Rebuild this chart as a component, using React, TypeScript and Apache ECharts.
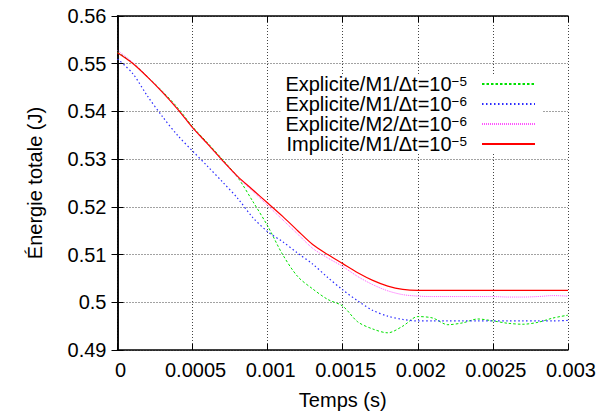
import React, { useEffect, useRef } from "react";
import * as echarts from "echarts";

const time = [
  0, 0.0001, 0.0002, 0.0003, 0.0004, 0.0005, 0.0006, 0.0007, 0.0008, 0.0009,
  0.001, 0.0011, 0.0012, 0.0013, 0.0014, 0.0015, 0.0016, 0.0017, 0.0018, 0.0019,
  0.002, 0.0021, 0.0022, 0.0023, 0.0024, 0.0025, 0.0026, 0.0027, 0.0028, 0.0029, 0.003,
];

const explM1e5 = [
  0.5524, 0.5502, 0.5473, 0.5442, 0.5408, 0.5368, 0.5334, 0.5299, 0.5262, 0.5212,
  0.516, 0.51, 0.5054, 0.5028, 0.5006, 0.4992, 0.4959, 0.4944, 0.4936, 0.495,
  0.497, 0.4967, 0.4953, 0.4957, 0.4965, 0.4961, 0.4956, 0.4954, 0.4958, 0.4967, 0.4973,
];

const explM1e6 = [
  0.551, 0.548, 0.5432, 0.5389, 0.535, 0.5317, 0.5285, 0.5252, 0.5218, 0.5178,
  0.5148, 0.5127, 0.5103, 0.508, 0.5052, 0.5026, 0.5003, 0.4983, 0.4971, 0.4964,
  0.4961, 0.4961, 0.4961, 0.4961, 0.4961, 0.4961, 0.4961, 0.4961, 0.4961, 0.4961, 0.4962,
];

const explM2e6 = [
  0.5528, 0.5503, 0.5473, 0.5441, 0.5405, 0.5365, 0.5331, 0.5296, 0.5262, 0.5233,
  0.5203, 0.5173, 0.5143, 0.5113, 0.5093, 0.5075, 0.5054, 0.5037, 0.5024, 0.5016,
  0.5013, 0.5012, 0.5012, 0.5012, 0.5012, 0.5012, 0.5011, 0.5011, 0.5012, 0.5014, 0.5013,
];

const implM1e5 = [
  0.5523, 0.5501, 0.5472, 0.544, 0.5405, 0.5366, 0.5332, 0.5297, 0.5264, 0.5236,
  0.5208, 0.518, 0.515, 0.5121, 0.51, 0.5081, 0.5062, 0.5046, 0.5034, 0.5027,
  0.5025, 0.5025, 0.5025, 0.5025, 0.5025, 0.5025, 0.5025, 0.5025, 0.5025, 0.5025, 0.5025,
];

const seriesNames = [
  "Explicite/M1/Δt=10{sup|−5}",
  "Explicite/M1/Δt=10{sup|−6}",
  "Explicite/M2/Δt=10{sup|−6}",
  "Implicite/M1/Δt=10{sup|−5}",
];
const seriesValues = [explM1e5, explM1e6, explM2e6, implM1e5];
const seriesColors = ["#00e000", "#2a2aff", "#ff55ff", "#ff0000"];
const seriesDash: (number[] | "solid")[] = [[2.5, 2], [1.5, 2.5], [1, 1], "solid"];
const seriesWidth = [1, 1.2, 1, 1.2];

const FONT = "'Liberation Sans', Arial, Helvetica, sans-serif";
const FS = 20;

const fmt = (v: number) => String(+Number(v).toFixed(6));

export default function App() {
  const ref = useRef<HTMLDivElement>(null);
  useEffect(() => {
    if (!ref.current) return;
    const chart = echarts.init(ref.current, undefined, { renderer: "svg" });
    const series = seriesNames.map((name, i) => ({
      name,
      type: "line" as const,
      xAxisIndex: 0,
      yAxisIndex: 0,
      data: time.map((t, j) => [t, seriesValues[i][j]]),
      showSymbol: false,
      symbol: "none",
      smooth: 0.3,
      color: seriesColors[i],
      lineStyle: { color: seriesColors[i], width: seriesWidth[i], type: seriesDash[i] as any },
    }));
    const axisLine = { show: true, lineStyle: { color: "#000", width: 1.5 } };
    const axisTick = { show: true, inside: true, length: 6, lineStyle: { color: "#000", width: 1 } };
    chart.setOption({
      animation: false,
      textStyle: { fontFamily: FONT },
      grid: { left: 117.5, right: 29, top: 16, bottom: 63, containLabel: false },
      legend: {
        orient: "vertical",
        align: "right",
        right: 56,
        top: 74,
        padding: [0, 7, 0, 5],
        itemGap: 0,
        itemWidth: 53,
        itemHeight: 14,
        backgroundColor: "#fff",
        itemStyle: { opacity: 0 },
        data: seriesNames,
        formatter: (n: string) => "{b|" + n.replace("{sup|", "}{sup|"),
        textStyle: {
          color: "#000",
          fontFamily: FONT,
          fontSize: FS,
          rich: {
            b: { fontSize: FS, lineHeight: 20, fontFamily: FONT, color: "#000", verticalAlign: "bottom" },
            sup: { fontSize: 13.5, lineHeight: 13, fontFamily: FONT, color: "#000", verticalAlign: "top", padding: [0, 10, 0, 0] },
          },
        },
      },
      xAxis: [
        {
          type: "value",
          min: 0,
          max: 0.003,
          interval: 0.0005,
          position: "bottom",
          name: "Temps (s)",
          nameLocation: "middle",
          nameGap: 40,
          nameTextStyle: { fontSize: FS, color: "#000", fontFamily: FONT },
          axisLine,
          axisTick,
          axisLabel: { fontSize: FS, color: "#000", margin: 10, fontFamily: FONT, formatter: fmt, padding: [0, 0, 0, 6] },
          splitLine: { show: true, lineStyle: { color: "#444", width: 1, type: [1, 2] } },
        },
        {
          type: "value",
          min: 0,
          max: 0.003,
          interval: 0.0005,
          position: "top",
          axisLine,
          axisTick,
          axisLabel: { show: false },
          splitLine: { show: false },
        },
      ],
      yAxis: [
        {
          type: "value",
          min: 0.49,
          max: 0.56,
          interval: 0.01,
          position: "left",
          name: "Énergie totale (J)",
          nameLocation: "middle",
          nameGap: 73,
          nameTextStyle: { fontSize: FS, color: "#000", fontFamily: FONT },
          axisLine,
          axisTick,
          axisLabel: { fontSize: FS, color: "#000", margin: 11, fontFamily: FONT, formatter: fmt },
          splitLine: { show: true, lineStyle: { color: "#444", width: 1, type: [1, 2] } },
        },
        {
          type: "value",
          min: 0.49,
          max: 0.56,
          interval: 0.01,
          position: "right",
          axisLine,
          axisTick,
          axisLabel: { show: false },
          splitLine: { show: false },
        },
      ],
      series,
    });
    return () => chart.dispose();
  }, []);
  return (
    <div
      ref={ref}
      style={{ position: "fixed", left: 0, top: 0, width: 599, height: 415, background: "#fff" }}
    />
  );
}
